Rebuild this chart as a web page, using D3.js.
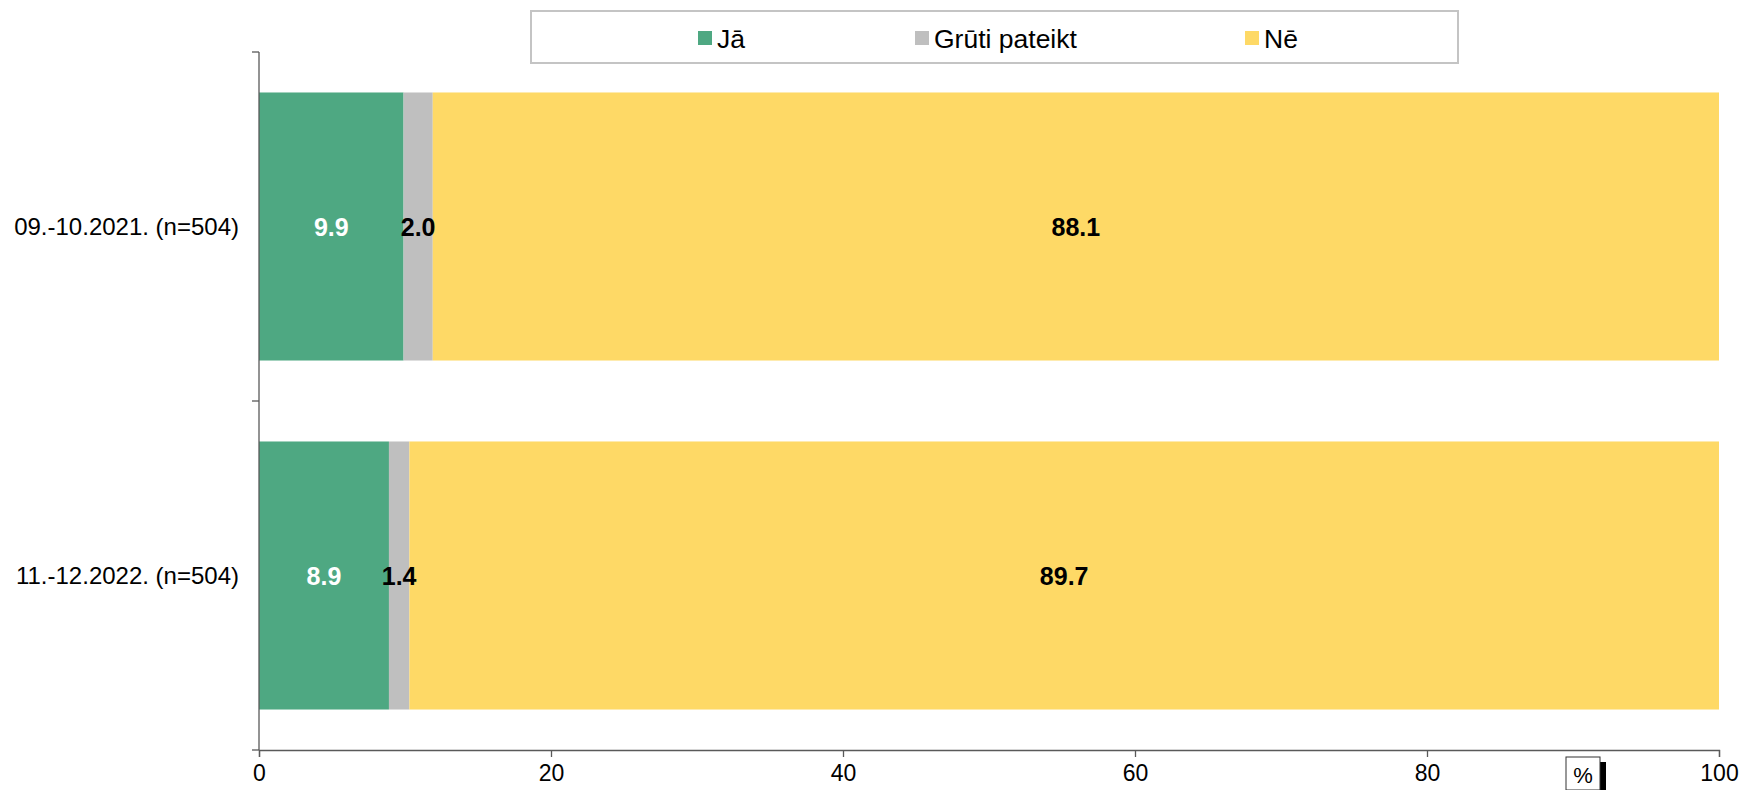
<!DOCTYPE html>
<html>
<head>
<meta charset="utf-8">
<script src="https://cdn.jsdelivr.net/npm/d3@7"></script>
<style>
  html, body { margin: 0; padding: 0; background: #ffffff; }
  svg { display: block; font-family: "Liberation Sans", Arial, sans-serif; }
</style>
</head>
<body>
<svg id="chart" width="1742" height="790"></svg>
<script>
// ---- data ----
const categories = ["09.-10.2021. (n=504)", "11.-12.2022. (n=504)"];
const seriesNames = ["Jā", "Grūti pateikt", "Nē"];
const valuesJa = [9.9, 8.9];
const valuesGruti = [2.0, 1.4];
const valuesNe = [88.1, 89.7];
const xTicks = [0, 20, 40, 60, 80, 100];
const unitLabel = "%";

const colors = ["#4ea882", "#bfbfbf", "#fed966"];
const labelColors = ["#ffffff", "#000000", "#000000"];

const svg = d3.select("#chart");
const W = 1742, H = 790;
const margin = { left: 259, right: 23, top: 52, bottom: 40 };

const x = d3.scaleLinear().domain([0, 100]).range([margin.left, W - margin.right]);
const y = d3.scaleBand().domain(categories)
  .range([margin.top, H - margin.bottom])
  .paddingInner(0.232).paddingOuter(0.116);

const rows = categories.map((c, i) => ({ cat: c, vals: [valuesJa[i], valuesGruti[i], valuesNe[i]] }));
const stackData = rows.map(r => {
  let acc = 0;
  return r.vals.map((v, k) => { const s = { cat: r.cat, k, v, x0: acc, x1: acc + v }; acc += v; return s; });
}).flat();

// bars
svg.append("g").selectAll("rect").data(stackData).enter().append("rect")
  .attr("x", d => x(d.x0))
  .attr("y", d => y(d.cat))
  .attr("width", d => x(d.x1) - x(d.x0))
  .attr("height", y.bandwidth())
  .attr("fill", d => colors[d.k]);

// value labels
svg.append("g").selectAll("text").data(stackData).enter().append("text")
  .attr("x", d => (x(d.x0) + x(d.x1)) / 2)
  .attr("y", d => y(d.cat) + y.bandwidth() / 2)
  .attr("dy", "0.36em")
  .attr("text-anchor", "middle")
  .attr("font-size", 25)
  .attr("font-weight", "bold")
  .attr("fill", d => labelColors[d.k])
  .text(d => d.v.toFixed(1));

const axisColor = "#595959";

// x axis
const xAxis = svg.append("g")
  .attr("transform", `translate(0,${H - margin.bottom})`)
  .call(d3.axisBottom(x).tickValues(xTicks).tickSize(7).tickPadding(8).tickFormat(d3.format("d")));
xAxis.select(".domain").attr("stroke", axisColor).attr("stroke-width", 1.3);
xAxis.selectAll(".tick line").attr("stroke", axisColor).attr("stroke-width", 1.3);
xAxis.selectAll(".tick text").attr("font-size", 23).attr("fill", "#000").attr("font-family", "Liberation Sans, Arial, sans-serif");

// y axis: ticks at band boundaries
const yBounds = [margin.top, (y(categories[0]) + y.bandwidth() + y(categories[1])) / 2, H - margin.bottom];
const yAxisG = svg.append("g");
yAxisG.append("line")
  .attr("x1", x(0)).attr("x2", x(0))
  .attr("y1", yBounds[0]).attr("y2", yBounds[2])
  .attr("stroke", axisColor).attr("stroke-width", 1.3);
yAxisG.selectAll("line.t").data(yBounds).enter().append("line")
  .attr("class", "t")
  .attr("x1", x(0) - 7).attr("x2", x(0))
  .attr("y1", d => d).attr("y2", d => d)
  .attr("stroke", axisColor).attr("stroke-width", 1.3);
yAxisG.selectAll("text").data(categories).enter().append("text")
  .attr("x", x(0) - 20)
  .attr("y", d => y(d) + y.bandwidth() / 2)
  .attr("dy", "0.36em")
  .attr("text-anchor", "end")
  .attr("font-size", 24)
  .attr("fill", "#000")
  .text(d => d);

// legend
const lg = svg.append("g");
lg.append("rect")
  .attr("x", 531).attr("y", 11).attr("width", 927).attr("height", 52)
  .attr("fill", "#fff").attr("stroke", "#c4c4c4").attr("stroke-width", 2);
const legendX = [698, 915, 1245];
seriesNames.forEach((name, i) => {
  lg.append("rect")
    .attr("x", legendX[i]).attr("y", 31).attr("width", 14).attr("height", 14)
    .attr("fill", colors[i]);
  lg.append("text")
    .attr("x", legendX[i] + 19).attr("y", 38)
    .attr("dy", "0.36em")
    .attr("font-size", 26.5)
    .attr("fill", "#000")
    .text(name);
});

// unit label box "%"
const ub = svg.append("g");
ub.append("rect").attr("x", 1571).attr("y", 762).attr("width", 35).attr("height", 30).attr("fill", "#000");
ub.append("rect").attr("x", 1566).attr("y", 757).attr("width", 34).attr("height", 33)
  .attr("fill", "#fff").attr("stroke", "#333").attr("stroke-width", 1);
ub.append("text").attr("x", 1583).attr("y", 775).attr("dy", "0.36em")
  .attr("text-anchor", "middle").attr("font-size", 22).attr("fill", "#000").text(unitLabel);
</script>
</body>
</html>
